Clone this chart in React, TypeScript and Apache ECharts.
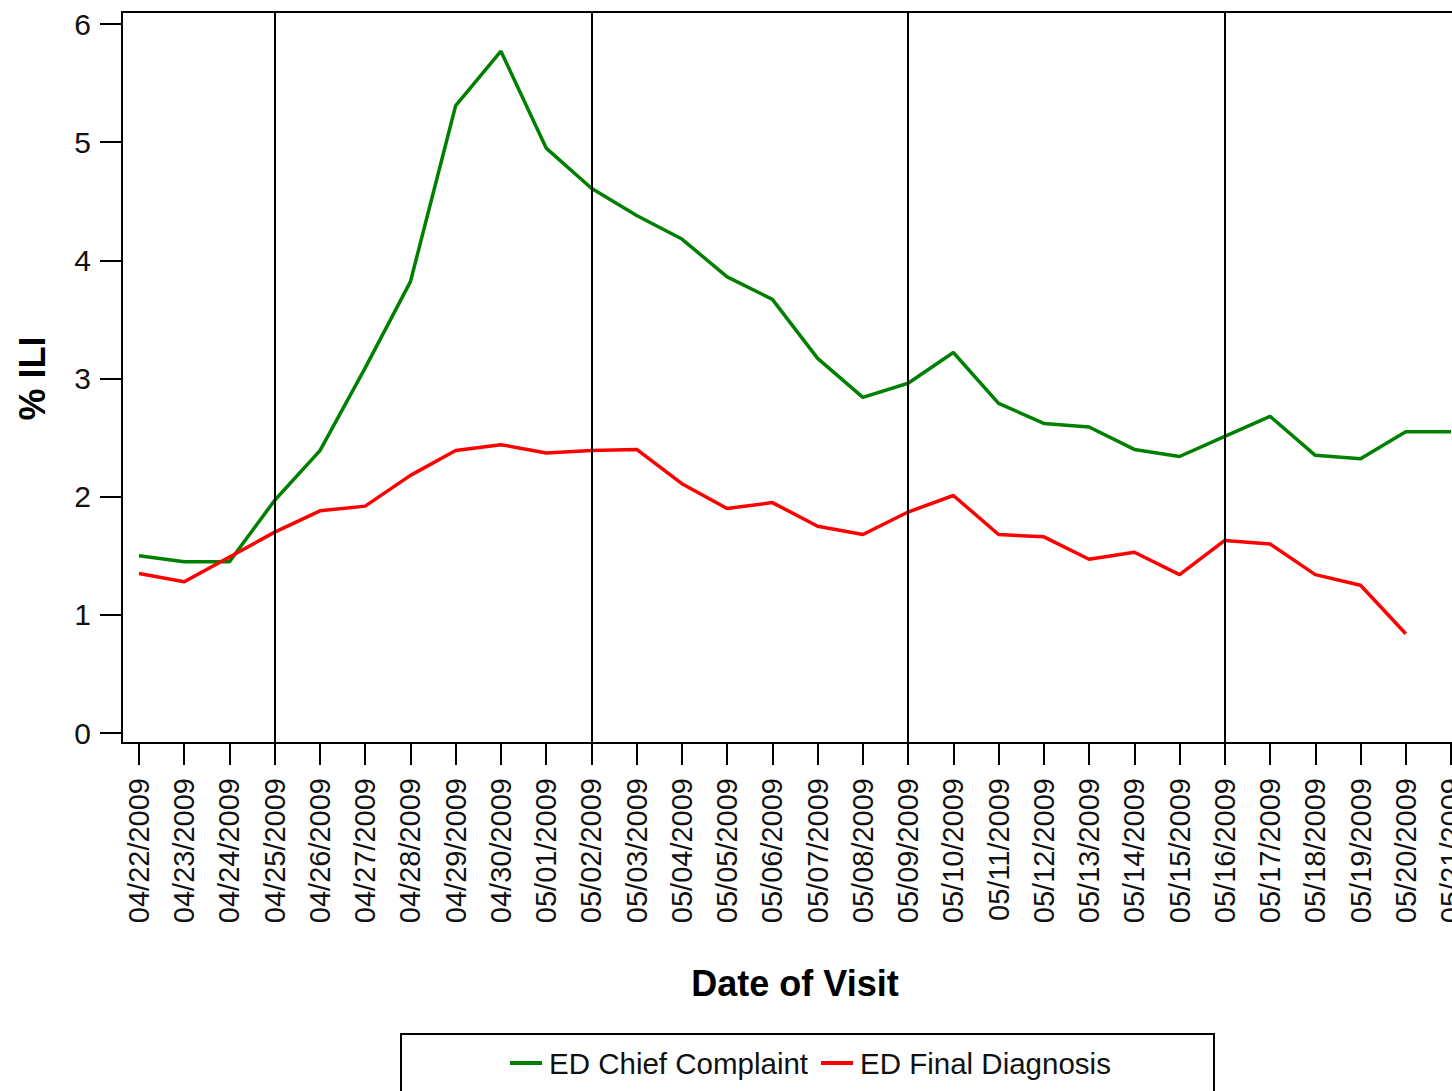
import React, { useEffect, useRef } from "react";
import * as echarts from "echarts";

const dates = [
  "04/22/2009", "04/23/2009", "04/24/2009", "04/25/2009", "04/26/2009", "04/27/2009",
  "04/28/2009", "04/29/2009", "04/30/2009", "05/01/2009", "05/02/2009", "05/03/2009",
  "05/04/2009", "05/05/2009", "05/06/2009", "05/07/2009", "05/08/2009", "05/09/2009",
  "05/10/2009", "05/11/2009", "05/12/2009", "05/13/2009", "05/14/2009", "05/15/2009",
  "05/16/2009", "05/17/2009", "05/18/2009", "05/19/2009", "05/20/2009", "05/21/2009",
];

const chiefComplaint = [
  1.5, 1.45, 1.45, 1.97, 2.39, 3.09, 3.82, 5.31, 5.77, 4.95, 4.61, 4.38, 4.18, 3.86, 3.67,
  3.17, 2.84, 2.96, 3.22, 2.79, 2.62, 2.59, 2.4, 2.34, 2.51, 2.68, 2.35, 2.32, 2.55, 2.55,
];

const finalDiagnosis = [
  1.35, 1.28, 1.49, 1.7, 1.88, 1.92, 2.18, 2.39, 2.44, 2.37, 2.39, 2.4, 2.11, 1.9, 1.95,
  1.75, 1.68, 1.87, 2.01, 1.68, 1.66, 1.47, 1.53, 1.34, 1.63, 1.6, 1.34, 1.25, 0.84, null,
];

const weekLineIdx = [3, 10, 17, 24];
const yTicks = { min: 0, max: 6, interval: 1 };

const FONT = "'Liberation Sans', Arial, sans-serif";

export default function App() {
  const ref = useRef<HTMLDivElement>(null);
  useEffect(() => {
    if (!ref.current) return;
    const chart = echarts.init(ref.current, undefined, { renderer: "svg" });
    chart.setOption({
      animation: false,
      backgroundColor: "#fff",
      textStyle: { fontFamily: FONT },
      grid: [
        { left: 122, top: 12, width: 1346, height: 731, show: true, borderColor: "#000", borderWidth: 2, backgroundColor: "transparent" },
        { left: 139, top: 24, width: 1312, height: 709 },
      ],
      xAxis: [
        { type: "value", gridIndex: 0, min: -0.375, max: 29.375, show: false },
        {
          type: "category",
          gridIndex: 1,
          data: dates,
          boundaryGap: false,
          position: "bottom",
          offset: 10,
          axisLine: { show: true, onZero: false, lineStyle: { color: "#000", width: 2 } },
          axisTick: { show: true, length: 22, interval: 0, lineStyle: { color: "#000", width: 2 } },
          axisLabel: { interval: 0, rotate: 90, margin: 35, fontSize: 29, color: "#111", fontFamily: FONT },
          splitLine: { show: false },
          name: "Date of Visit",
          nameLocation: "middle",
          nameGap: 222,
          nameTextStyle: { fontSize: 36, fontWeight: "bold", color: "#000", fontFamily: FONT },
        },
      ],
      yAxis: [
        { type: "value", gridIndex: 0, min: 0, max: 1, show: false },
        {
          type: "value",
          gridIndex: 1,
          min: yTicks.min,
          max: yTicks.max,
          interval: yTicks.interval,
          offset: 17,
          axisLine: { show: true, onZero: false, lineStyle: { color: "#000", width: 2 } },
          axisTick: { show: true, length: 22, lineStyle: { color: "#000", width: 2 } },
          axisLabel: { margin: 31, fontSize: 30, color: "#111", fontFamily: FONT },
          splitLine: { show: false },
          name: "% ILI",
          nameLocation: "middle",
          nameRotate: 90,
          nameGap: 72,
          nameTextStyle: { fontSize: 36, fontWeight: "bold", color: "#000", fontFamily: FONT },
        },
      ],
      legend: {
        data: ["ED Chief Complaint", "ED Final Diagnosis"],
        left: 505,
        top: 1043,
        icon: "rect",
        itemWidth: 32,
        itemHeight: 4,
        itemGap: 13,
        textStyle: { fontSize: 29.5, color: "#111", fontFamily: FONT, padding: [0, 0, 0, 2] },
      },
      graphic: [
        {
          type: "rect",
          shape: { x: 401, y: 1034, width: 813, height: 100 },
          style: { fill: "transparent", stroke: "#000", lineWidth: 2 },
          silent: true,
        },
      ],
      series: [
        {
          type: "line",
          xAxisIndex: 0,
          yAxisIndex: 0,
          data: [],
          silent: true,
          markLine: {
            silent: true,
            symbol: "none",
            label: { show: false },
            lineStyle: { color: "#000", width: 2, type: "solid" },
            data: weekLineIdx.map((i) => ({ xAxis: i })),
          },
        },
        {
          name: "ED Chief Complaint",
          type: "line",
          xAxisIndex: 1,
          yAxisIndex: 1,
          data: chiefComplaint,
          symbol: "none",
          lineStyle: { color: "#008000", width: 3.5 },
          itemStyle: { color: "#008000" },
        },
        {
          name: "ED Final Diagnosis",
          type: "line",
          xAxisIndex: 1,
          yAxisIndex: 1,
          data: finalDiagnosis,
          symbol: "none",
          lineStyle: { color: "#ff0000", width: 3.5 },
          itemStyle: { color: "#ff0000" },
        },
      ],
    });
    return () => chart.dispose();
  }, []);
  return (
    <div style={{ position: "fixed", left: 0, top: 0, width: 1452, height: 1091, overflow: "hidden", background: "#fff" }}>
      <div ref={ref} style={{ width: 1480, height: 1120 }} />
    </div>
  );
}
